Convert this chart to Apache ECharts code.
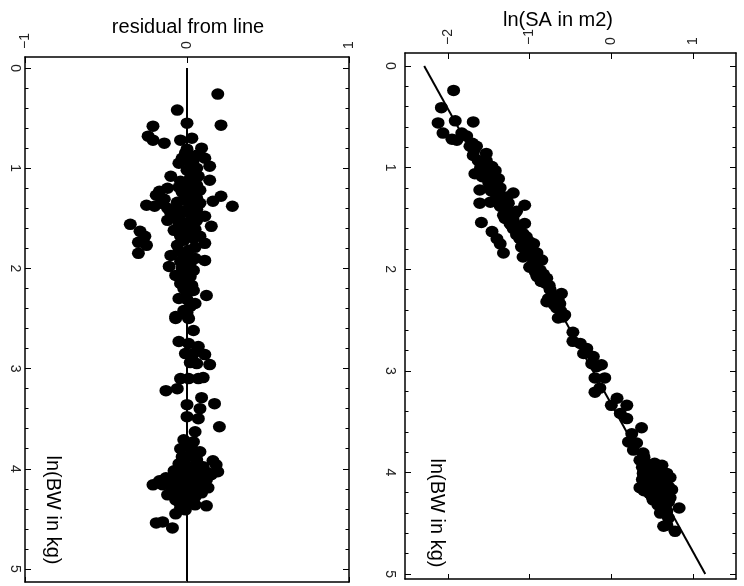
<!DOCTYPE html>
<html>
<head>
<meta charset="utf-8">
<script src="https://cdn.jsdelivr.net/npm/echarts@6/dist/echarts.min.js"></script>
<style>html,body{margin:0;padding:0;background:#fff}#c{width:744px;height:586px}</style>
</head>
<body>
<div id="c"></div>
<script>
// ---------- DATA ----------
// Left panel: residual from fitted line vs ln(BW in kg)
const resBW = [0.26,0.42,0.55,0.57,0.58,0.68,0.72,0.75,0.72,0.70,0.80,0.81,0.90,0.95,0.87,0.90,0.98,1.12,1.08,1.13,
  1.08,1.18,1.20,1.23,1.27,1.28,1.33,1.38,1.37,1.38,1.40,1.42,1.38,1.35,1.48,1.50,1.56,1.58,1.63,1.68,
  1.74,1.77,1.85,1.62,1.68,1.58,1.68,1.75,1.77,1.82,1.87,1.98,1.92,1.93,2.02,2.07,2.15,2.22,2.27,2.30,
  2.35,2.48,2.47,1.02,1.32,1.45,1.55,1.48,1.88,2.08,2.31,2.42,1.05,1.15,1.25,1.30,1.60,1.65,1.72,1.95,
  2.12,2.20,0.95,1.43,1.52,1.22,2.44,2.50,2.50,2.62,2.73,2.75,2.78,2.85,2.85,2.86,2.94,2.95,2.96,3.10,
  3.10,3.10,3.09,3.22,3.20,3.29,3.35,3.36,3.40,3.48,3.50,3.58,3.63,3.71,3.73,3.80,3.80,3.83,3.88,3.91,
  3.95,3.98,3.92,3.96,4.03,4.04,4.05,4.11,4.11,4.16,4.16,4.14,4.13,4.14,4.19,4.26,4.23,4.23,4.28,4.31,
  4.31,4.39,4.37,4.54,4.53,4.59,4.10,4.05,4.18,4.18,4.34,4.20,3.88,4.08,4.22,4.26,4.00,4.13,
  0.85,0.92,1.00,1.10,1.17,1.19,1.24,1.29,1.34,1.36,1.41,1.46,1.53,1.57,1.61,1.66,1.70,1.79,1.83,1.90,
  2.00,2.04,2.10,2.17,2.25,2.38,1.45,1.52,1.31,1.35,
  3.75,3.85,3.93,4.01,4.07,4.09,4.12,4.15,4.17,4.21,4.24,4.27,4.29,4.33,4.36,4.41,4.45,4.02,3.98,4.06];
const resVal = [0.19,-0.06,0.00,0.21,-0.21,-0.24,-0.21,-0.14,-0.04,0.03,0.09,0.00,-0.03,-0.05,0.06,0.11,0.14,0.14,-0.10,-0.04,
  0.07,0.04,-0.12,-0.17,-0.19,0.21,0.16,0.28,-0.25,-0.20,-0.12,-0.06,0.02,0.08,0.11,-0.07,-0.35,0.15,-0.29,-0.26,
  -0.30,-0.25,-0.30,-0.08,-0.04,0.04,0.08,0.11,-0.06,0.01,-0.10,-0.11,0.11,-0.04,0.04,-0.07,-0.04,0.04,0.12,-0.05,
  0.05,-0.07,0.00,0.00,-0.02,0.02,-0.01,0.05,-0.02,0.02,0.00,-0.02,0.03,-0.01,0.03,0.06,0.00,0.02,-0.02,0.02,
  0.00,-0.02,0.02,-0.03,0.06,0.08,0.00,-0.07,0.01,0.04,-0.05,0.01,0.07,-0.01,0.04,0.11,0.02,0.06,0.14,-0.04,
  0.01,0.07,0.10,-0.13,-0.06,0.09,0.17,0.00,0.08,0.00,0.07,0.20,0.05,-0.02,0.04,-0.04,0.03,0.08,0.00,0.06,
  -0.05,0.02,0.16,0.18,0.19,0.13,-0.04,0.12,-0.10,-0.21,-0.15,-0.07,0.00,0.06,0.13,-0.12,-0.05,0.01,0.05,-0.07,
  -0.02,-0.04,0.12,-0.19,-0.15,-0.09,-0.02,0.03,-0.04,0.02,0.00,0.08,-0.03,-0.06,-0.09,0.03,0.00,0.09,
  -0.01,0.04,0.06,0.02,0.06,-0.05,-0.03,0.00,-0.06,0.04,0.06,-0.04,0.02,-0.05,0.05,-0.02,0.04,0.05,-0.05,0.05,
  -0.03,0.01,-0.03,0.03,0.00,0.02,-0.10,-0.12,-0.14,-0.16,
  0.00,0.04,-0.02,0.07,0.09,-0.13,-0.17,0.03,-0.10,-0.02,0.09,-0.03,0.02,-0.05,0.05,-0.01,-0.07,-0.08,0.10,0.15];
// Right panel: ln(SA in m2) vs ln(BW in kg)
const saBW = [0.24,0.41,0.56,0.54,0.55,0.66,0.72,0.73,0.66,0.69,0.79,0.79,0.88,0.93,0.93,0.99,1.06,1.07,1.11,1.22,
  1.19,1.20,1.25,1.37,1.35,1.34,1.38,1.35,1.43,1.47,1.54,1.63,1.70,1.75,1.84,1.55,1.58,1.55,1.66,1.68,
  1.75,1.78,1.88,1.91,1.91,1.98,2.01,2.09,2.07,2.20,2.24,2.29,2.30,2.38,2.45,0.86,1.12,1.29,1.48,1.84,
  1.84,1.00,1.15,1.28,1.42,1.60,1.70,1.95,2.14,1.03,1.45,2.32,2.34,2.48,2.47,2.62,2.71,2.73,2.78,2.83,
  2.86,2.93,2.94,2.96,3.07,3.07,3.21,3.17,3.27,3.34,3.34,3.42,3.47,3.56,3.62,3.70,3.71,3.78,3.81,3.88,
  3.91,3.91,3.93,4.01,3.98,4.01,4.01,4.15,4.09,4.11,4.09,4.17,4.21,4.19,4.27,4.27,4.29,4.38,4.35,4.53,
  4.52,4.58,4.05,4.13,4.23,3.95,4.20,4.30,
  1.00,1.04,1.09,1.14,1.18,1.23,1.27,1.31,1.33,1.40,1.44,1.50,1.52,1.57,1.62,1.65,1.72,1.73,1.80,1.86,
  1.93,1.96,2.03,2.05,2.12,2.16,2.26,2.35,2.41,0.95,0.83,0.76,
  3.85,3.96,4.00,4.03,4.06,4.07,4.12,4.14,4.16,4.18,4.22,4.24,4.25,4.32,4.33,4.36,4.40,4.45,3.95,4.05];
const saVal = [-1.93,-2.08,-2.12,-1.91,-1.69,-2.06,-1.95,-1.89,-1.83,-1.77,-1.73,-1.65,-1.69,-1.63,-1.53,-1.46,-1.67,-1.55,-1.38,-1.61,
  -1.48,-1.36,-1.20,-1.06,-1.61,-1.48,-1.36,-1.26,-1.16,-1.32,-1.59,-1.46,-1.40,-1.36,-1.32,-1.24,-1.12,-1.06,-1.16,-1.04,
  -0.95,-1.10,-1.08,-0.95,-0.85,-1.00,-0.87,-0.79,-0.91,-0.75,-0.61,-0.77,-0.65,-0.67,-0.57,-1.53,-1.44,-1.28,-1.24,-1.04,
  -0.91,-1.55,-1.50,-1.40,-1.30,-1.20,-1.12,-0.93,-0.80,-1.42,-1.18,-0.79,-0.63,-0.65,-0.59,-0.47,-0.47,-0.38,-0.30,-0.34,
  -0.22,-0.24,-0.12,-0.18,-0.20,-0.08,-0.20,-0.14,0.07,0.00,0.19,0.11,0.19,0.37,0.25,0.21,0.31,0.27,0.39,0.35,
  0.43,0.53,0.62,0.68,0.47,0.39,0.56,0.35,0.43,0.53,0.64,0.74,0.47,0.58,0.51,0.62,0.70,0.68,0.83,0.64,
  0.68,0.78,0.50,0.60,0.55,0.45,0.66,0.60,
  -1.60,-1.52,-1.58,-1.46,-1.42,-1.47,-1.36,-1.41,-1.33,-1.30,-1.25,-1.30,-1.20,-1.22,-1.15,-1.08,-1.06,-1.00,-1.03,-0.98,
  -0.90,-0.97,-0.93,-0.83,-0.86,-0.76,-0.70,-0.70,-0.62,-1.60,-1.68,-1.70,
  0.40,0.55,0.60,0.45,0.62,0.38,0.45,0.70,0.52,0.40,0.63,0.50,0.72,0.57,0.66,0.62,0.60,0.70,0.38,0.72];
// Fitted line endpoints [SA, BW] and zero-residual line [res, BW]
const fitLine = [[-2.29, 0], [1.15, 5]];
const zeroLine = [[0, 0], [0, 5.12]];
// Tick values
const bwTicks = [0, 1, 2, 3, 4, 5];
const bwMinorTicks = [0.2,0.4,0.6,0.8,1.2,1.4,1.6,1.8,2.2,2.4,2.6,2.8,3.2,3.4,3.6,3.8,4.2,4.4,4.6,4.8];
const saTicks = [-2, -1, 0, 1];
const resTicks = [-1, 0, 1];

// ---------- CHART ----------
const FONT = 'Liberation Sans, Arial, sans-serif';
const fmt = v => (v < 0 ? '\u2212' + Math.abs(v) : String(v));
function zip(a, b) { return a.map((v, i) => [b[i], v]); }

function xAx(grid, min, max, pos, ticks, labels, tickLen) {
  return {
    type: 'value', gridIndex: grid, position: pos, min: min, max: max,
    splitLine: { show: false },
    axisLine: { show: true, onZero: false, lineStyle: { color: '#000', width: 1.5 } },
    axisTick: { show: true, inside: true, length: tickLen, customValues: ticks, lineStyle: { color: '#000', width: 1 } },
    axisLabel: { show: labels, customValues: ticks, rotate: -90, margin: 8, fontSize: 14, color: '#222', fontFamily: FONT, formatter: fmt }
  };
}
function yAx(grid, min, max, pos, ticks, labels, tickLen, line, margin) {
  return {
    type: 'value', gridIndex: grid, position: pos, min: min, max: max, inverse: true,
    splitLine: { show: false },
    axisLine: { show: line, onZero: false, lineStyle: { color: '#000', width: 1.5 } },
    axisTick: { show: true, inside: true, length: tickLen, customValues: ticks, lineStyle: { color: '#000', width: 1 } },
    axisLabel: { show: labels, customValues: ticks, rotate: -90, margin: margin || 8, fontSize: 14, color: '#222', fontFamily: FONT, formatter: fmt }
  };
}

const chart = echarts.init(document.getElementById('c'), null, { renderer: 'canvas' });
chart.setOption({
  animation: false,
  backgroundColor: '#fff',
  grid: [
    { left: 25, top: 57, width: 324, height: 525 },
    { left: 405, top: 53, width: 331, height: 526 }
  ],
  xAxis: [
    xAx(0, -1, 1, 'top', resTicks, true, 6),
    xAx(0, -1, 1, 'bottom', resTicks, false, 5),
    xAx(1, -2.525, 1.526, 'top', saTicks, true, 6),
    xAx(1, -2.525, 1.526, 'bottom', saTicks, false, 5)
  ],
  yAxis: [
    yAx(0, -0.11, 5.13, 'left', bwTicks, true, 6, true, 3),
    yAx(0, -0.11, 5.13, 'left', bwMinorTicks, false, 3.5, false),
    yAx(0, -0.11, 5.13, 'right', bwTicks, false, 6, true),
    yAx(0, -0.11, 5.13, 'right', bwMinorTicks, false, 3.5, false),
    yAx(1, -0.128, 5.049, 'left', bwTicks, true, 6, true, 8),
    yAx(1, -0.128, 5.049, 'left', bwMinorTicks, false, 3.5, false),
    yAx(1, -0.128, 5.049, 'right', bwTicks, false, 6, true),
    yAx(1, -0.128, 5.049, 'right', bwMinorTicks, false, 3.5, false)
  ],
  series: [
    { type: 'line', xAxisIndex: 0, yAxisIndex: 0, data: zeroLine, symbol: 'none', lineStyle: { color: '#000', width: 2 }, z: 3 },
    { type: 'scatter', xAxisIndex: 0, yAxisIndex: 0, data: zip(resBW, resVal), symbol: 'circle', symbolSize: [13, 11.5],
      itemStyle: { color: '#000', opacity: 1 }, z: 2 },
    { type: 'line', xAxisIndex: 2, yAxisIndex: 4, data: fitLine, symbol: 'none', lineStyle: { color: '#000', width: 2 }, z: 3 },
    { type: 'scatter', xAxisIndex: 2, yAxisIndex: 4, data: zip(saBW, saVal), symbol: 'circle', symbolSize: [13, 11.5],
      itemStyle: { color: '#000', opacity: 1 }, z: 2 }
  ],
  graphic: [
    { type: 'text', x: 188, y: 27, style: { text: 'residual from line', font: '20px ' + FONT, fill: '#000', align: 'center', verticalAlign: 'middle', textAlign: 'center', textVerticalAlign: 'middle' } },
    { type: 'text', x: 558, y: 20, style: { text: 'ln(SA in m2)', font: '20px ' + FONT, fill: '#000', align: 'center', verticalAlign: 'middle', textAlign: 'center', textVerticalAlign: 'middle' } },
    { type: 'text', x: 53, y: 510, rotation: -Math.PI / 2, style: { text: 'ln(BW in kg)', font: '20px ' + FONT, fill: '#000', align: 'center', verticalAlign: 'middle', textAlign: 'center', textVerticalAlign: 'middle' } },
    { type: 'text', x: 437, y: 513, rotation: -Math.PI / 2, style: { text: 'ln(BW in kg)', font: '20px ' + FONT, fill: '#000', align: 'center', verticalAlign: 'middle', textAlign: 'center', textVerticalAlign: 'middle' } }
  ]
});
</script>
</body>
</html>
